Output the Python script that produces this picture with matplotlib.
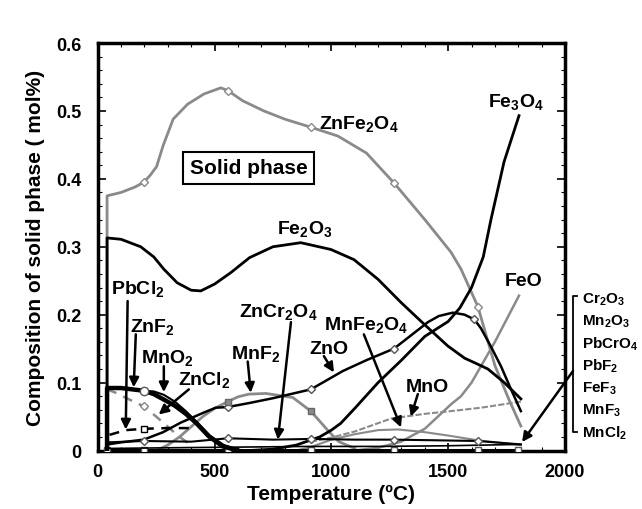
import matplotlib
matplotlib.use("Agg")
import matplotlib.pyplot as plt

plt.rcParams['font.family'] = ['Liberation Sans', 'DejaVu Sans']
plt.rcParams['font.weight'] = 'bold'
plt.rcParams['mathtext.fontset'] = 'custom'
plt.rcParams['mathtext.rm'] = 'Liberation Sans:bold'
plt.rcParams['mathtext.bf'] = 'Liberation Sans:bold'
plt.rcParams['mathtext.it'] = 'Liberation Sans:bold'
plt.rcParams['mathtext.default'] = 'rm'

# ---------------- data ----------------
znfe2o4_T = [40, 40, 100, 160, 197, 224, 252, 280, 323, 385, 455, 527, 557, 620, 711, 800, 912, 1028, 1150, 1268, 1400, 1512, 1555, 1627, 1700, 1760, 1811]
znfe2o4_v = [0, 0.375, 0.380, 0.388, 0.395, 0.405, 0.418, 0.449, 0.488, 0.510, 0.525, 0.534, 0.530, 0.515, 0.500, 0.488, 0.476, 0.463, 0.438, 0.394, 0.340, 0.292, 0.267, 0.212, 0.125, 0.075, 0.036]

fe2o3_T = [40, 40, 100, 184, 240, 283, 340, 400, 441, 500, 570, 650, 750, 869, 998, 1097, 1200, 1298, 1400, 1498, 1570, 1627, 1670, 1740, 1811]
fe2o3_v = [0, 0.313, 0.311, 0.300, 0.285, 0.267, 0.247, 0.236, 0.235, 0.245, 0.262, 0.284, 0.300, 0.306, 0.296, 0.281, 0.252, 0.218, 0.185, 0.154, 0.136, 0.127, 0.120, 0.100, 0.076]

zno_T = [43, 100, 197, 280, 355, 455, 505, 557, 650, 750, 850, 912, 1049, 1150, 1268, 1380, 1413, 1460, 1520, 1570, 1612, 1640, 1683, 1726, 1769, 1811]
zno_v = [0.009, 0.012, 0.016, 0.027, 0.041, 0.056, 0.063, 0.064, 0.070, 0.077, 0.085, 0.090, 0.117, 0.133, 0.150, 0.180, 0.189, 0.198, 0.203, 0.200, 0.193, 0.180, 0.153, 0.124, 0.090, 0.058]

fe3o4_T = [650, 750, 850, 950, 1000, 1040, 1100, 1200, 1300, 1400, 1500, 1550, 1600, 1650, 1683, 1739, 1803]
fe3o4_v = [0.0, 0.002, 0.008, 0.020, 0.030, 0.040, 0.062, 0.100, 0.133, 0.168, 0.190, 0.210, 0.240, 0.285, 0.340, 0.425, 0.493]

feo_T = [1100, 1200, 1298, 1400, 1512, 1555, 1600, 1700, 1803]
feo_v = [0.0, 0.004, 0.013, 0.032, 0.068, 0.080, 0.100, 0.160, 0.228]

mnf2_T = [250, 300, 350, 400, 450, 500, 557, 600, 647, 720, 835, 912, 989, 1032, 1100]
mnf2_v = [0.0, 0.008, 0.020, 0.035, 0.050, 0.062, 0.072, 0.079, 0.083, 0.084, 0.078, 0.058, 0.028, 0.013, 0.003]

znf2_T = [40, 40, 100, 197, 240, 283, 330, 377, 420, 475, 535, 600]
znf2_v = [0, 0.092, 0.092, 0.088, 0.083, 0.075, 0.066, 0.054, 0.041, 0.021, 0.006, 0.0]

mno2_T = [197, 240, 283, 330, 377, 430, 480, 540, 600]
mno2_v = [0.088, 0.087, 0.082, 0.072, 0.058, 0.040, 0.022, 0.008, 0.002]

pbcl2_T = [40, 40, 120, 197, 300, 420]
pbcl2_v = [0, 0.022, 0.030, 0.032, 0.033, 0.033]

zncl2_T = [40, 77, 130, 197, 250, 300, 350, 400]
zncl2_v = [0.090, 0.085, 0.076, 0.065, 0.050, 0.035, 0.020, 0.008]

zncr2o4_T = [43, 197, 400, 557, 750, 912, 1100, 1268, 1450, 1627, 1811]
zncr2o4_v = [0.012, 0.014, 0.013, 0.018, 0.016, 0.017, 0.016, 0.016, 0.015, 0.014, 0.009]

minor_T = [43, 300, 600, 900, 1200, 1500, 1811]
minor_v = [0.003, 0.004, 0.005, 0.006, 0.006, 0.007, 0.009]

zero_T = [40, 197, 557, 912, 1268, 1627, 1800]
zero_v = [0.001, 0.001, 0.001, 0.001, 0.001, 0.001, 0.001]

mno_T = [912, 1000, 1100, 1255, 1400, 1512, 1640, 1811]
mno_v = [0.013, 0.019, 0.028, 0.047, 0.054, 0.058, 0.063, 0.072]

mnfe2o4_T = [850, 912, 1000, 1100, 1200, 1285, 1400, 1500, 1627, 1811]
mnfe2o4_v = [0.0, 0.005, 0.016, 0.024, 0.030, 0.031, 0.027, 0.022, 0.015, 0.008]

marker_T = [197, 557, 912, 1268, 1627]

right_labels = [r'Cr$_2$O$_3$', r'Mn$_2$O$_3$', r'PbCrO$_4$', r'PbF$_2$', r'FeF$_3$', r'MnF$_3$', r'MnCl$_2$']

# ---------------- figure ----------------
fig = plt.figure(figsize=(6.42, 5.10), dpi=100)
ax = fig.add_axes([0.1522, 0.1147, 0.7279, 0.799])

GREY = '#8a8a8a'

def marks(T, v, Tm):
    xs, ys = [], []
    for t in Tm:
        if T[0] <= t <= T[-1]:
            i = min(range(len(T)), key=lambda k: abs(T[k] - t))
            xs.append(T[i]); ys.append(v[i])
    return xs, ys

ax.plot(zero_T, zero_v, color='k', lw=2.2, marker='s', ms=5, mfc='white', mec='#555', zorder=3)
ax.plot(minor_T, minor_v, color='k', lw=1.2, zorder=3)
ax.plot(zncr2o4_T, zncr2o4_v, color='k', lw=1.5, zorder=3)
mx, my = marks(zncr2o4_T, zncr2o4_v, marker_T)
ax.plot(mx, my, ls='none', marker='D', ms=4, mfc='white', mec='#555', zorder=4)

ax.plot(mnfe2o4_T, mnfe2o4_v, color=GREY, lw=1.5, zorder=2)
ax.plot(mno_T, mno_v, color=GREY, lw=1.5, ls=(0, (3, 1)), zorder=2)
ax.plot(feo_T, feo_v, color=GREY, lw=1.8, zorder=2)

ax.plot(znfe2o4_T, znfe2o4_v, color=GREY, lw=2.0, zorder=2)
mx, my = marks(znfe2o4_T, znfe2o4_v, marker_T)
ax.plot(mx, my, ls='none', marker='D', ms=4, mfc='white', mec=GREY, zorder=4)

ax.plot(fe2o3_T, fe2o3_v, color='k', lw=2.0, zorder=3)
ax.plot(zno_T, zno_v, color='k', lw=1.8, zorder=3)
mx, my = marks(zno_T, zno_v, [557, 912, 1268, 1612])
ax.plot(mx, my, ls='none', marker='D', ms=4, mfc='white', mec='#555', zorder=4)
ax.plot(fe3o4_T, fe3o4_v, color='k', lw=2.0, zorder=3)

ax.plot(mnf2_T, mnf2_v, color=GREY, lw=2.0, zorder=2)
mx, my = marks(mnf2_T, mnf2_v, [557, 912])
ax.plot(mx, my, ls='none', marker='s', ms=5, mfc=GREY, mec='#666', zorder=4)

ax.plot(znf2_T, znf2_v, color='k', lw=3.2, zorder=3)
ax.plot(mno2_T, mno2_v, color='k', lw=1.5, zorder=3)
ax.plot([197], [0.088], ls='none', marker='o', ms=6, mfc='white', mec='#555', zorder=5)

ax.plot(pbcl2_T, pbcl2_v, color='k', lw=1.8, ls=(0, (4, 3)), zorder=3)
ax.plot([197], [0.032], ls='none', marker='s', ms=5, mfc='white', mec='k', zorder=5)
ax.plot(zncl2_T, zncl2_v, color=GREY, lw=1.8, ls=(0, (4, 3)), zorder=2)
ax.plot([197], [0.065], ls='none', marker='D', ms=4, mfc='white', mec=GREY, zorder=5)

# ---------------- axes ----------------
ax.set_xlim(0, 2000)
ax.set_ylim(0, 0.6)
ax.set_xticks([0, 500, 1000, 1500, 2000])
ax.set_xticklabels(['0', '500', '1000', '1500', '2000'])
ax.set_yticks([0, 0.1, 0.2, 0.3, 0.4, 0.5, 0.6])
ax.set_yticklabels(['0', '0.1', '0.2', '0.3', '0.4', '0.5', '0.6'])
ax.set_xticks(range(0, 2001, 100), minor=True)
ax.set_yticks([i * 0.02 for i in range(31)], minor=True)
ax.tick_params(which='both', direction='in', top=True, right=True)
ax.tick_params(which='major', length=6, width=1.2, labelsize=13)
ax.tick_params(which='minor', length=3, width=0.8)
ax.tick_params(axis='y', pad=12)
ax.tick_params(axis='x', pad=9)
for s in ax.spines.values():
    s.set_linewidth(2.5)
for lab in ax.get_xticklabels() + ax.get_yticklabels():
    lab.set_fontweight('bold')

ax.set_xlabel('Temperature (ºC)', fontsize=15, fontweight='bold', labelpad=3)
ax.set_ylabel('Composition of solid phase ( mol%)', fontsize=15, fontweight='bold', labelpad=8)

# ---------------- annotations ----------------
FS = 14
ax.text(645, 0.416, 'Solid phase', fontsize=15, fontweight='bold', ha='center', va='center',
        bbox=dict(boxstyle='square,pad=0.3', fc='white', ec='k', lw=1.5), zorder=6)
ax.text(1118, 0.482, r'ZnFe$_2$O$_4$', fontsize=FS, ha='center', va='center')
ax.text(1790, 0.515, r'Fe$_3$O$_4$', fontsize=FS, ha='center', va='center')
ax.text(887, 0.327, r'Fe$_2$O$_3$', fontsize=FS, ha='center', va='center')
ax.text(171, 0.240, r'PbCl$_2$', fontsize=FS, ha='center', va='center')
ax.text(236, 0.183, r'ZnF$_2$', fontsize=FS, ha='center', va='center')
ax.text(296, 0.137, r'MnO$_2$', fontsize=FS, ha='center', va='center')
ax.text(455, 0.105, r'ZnCl$_2$', fontsize=FS, ha='center', va='center')
ax.text(677, 0.143, r'MnF$_2$', fontsize=FS, ha='center', va='center')
ax.text(775, 0.206, r'ZnCr$_2$O$_4$', fontsize=FS, ha='center', va='center')
ax.text(1148, 0.186, r'MnFe$_2$O$_4$', fontsize=FS, ha='center', va='center')
ax.text(990, 0.150, 'ZnO', fontsize=FS, ha='center', va='center')
ax.text(1413, 0.094, 'MnO', fontsize=FS, ha='center', va='center')
ax.text(1821, 0.250, 'FeO', fontsize=FS, ha='center', va='center')

arrows = [
    ((128, 0.220), (120, 0.031)),
    ((163, 0.171), (154, 0.093)),
    ((283, 0.124), (283, 0.086)),
    ((390, 0.090), (261, 0.053)),
    ((642, 0.131), (655, 0.085)),
    ((827, 0.189), (771, 0.016)),
    ((968, 0.139), (1011, 0.115)),
    ((1139, 0.171), (1298, 0.034)),
    ((1370, 0.083), (1340, 0.050)),
    ((2034, 0.117), (1816, 0.0125)),
]
for (x0, y0), (x1, y1) in arrows:
    ax.annotate('', xy=(x1, y1), xytext=(x0, y0),
                arrowprops=dict(arrowstyle='-|>', color='k', lw=1.8, mutation_scale=14,
                                shrinkA=0, shrinkB=0),
                annotation_clip=False, zorder=7)

# bracket on the right
ax.plot([2051, 2034, 2034, 2051], [0.2275, 0.2275, 0.027, 0.027], color='k', lw=1.3, clip_on=False)
for i, lab in enumerate(right_labels):
    ax.text(2072, 0.223 - i * 0.0327, lab, fontsize=11, ha='left', va='center', clip_on=False)

fig.savefig('out.png', dpi=100)
